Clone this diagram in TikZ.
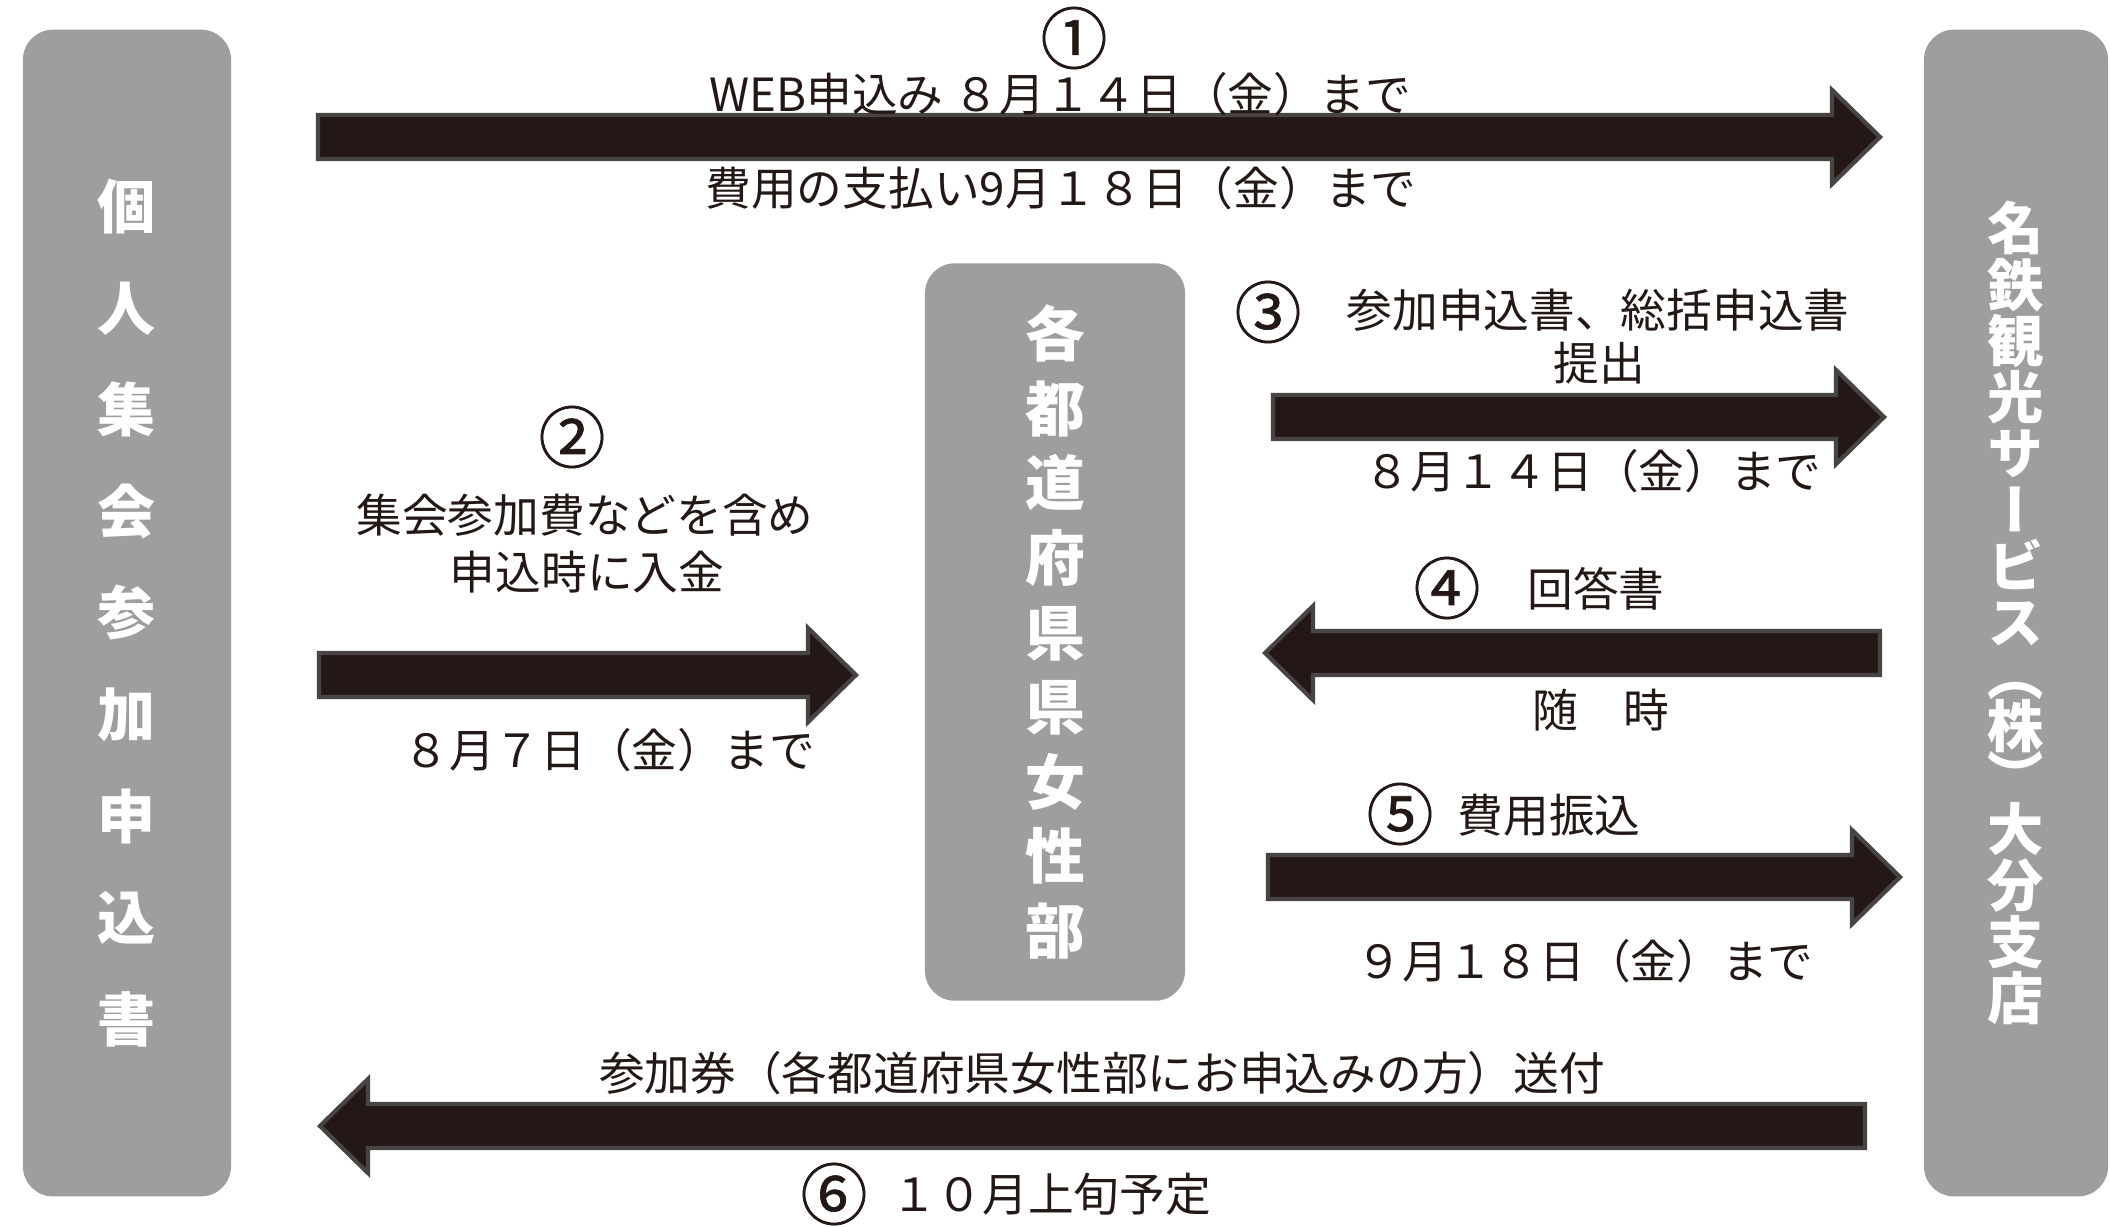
\documentclass[tikz,border=0pt]{standalone}
\usepackage{fontspec}
\usepackage{graphicx}
\usetikzlibrary{calc}
\newfontfamily\cjk{Noto Sans CJK JP}
\newfontfamily\cjkv[RawFeature=+vert]{Noto Sans CJK JP}
\newfontfamily\cjknum[FakeBold=1]{Noto Sans CJK JP}
\definecolor{boxgray}{RGB}{157,158,158}
\definecolor{ink}{RGB}{35,24,21}
\definecolor{rim}{RGB}{72,68,67}

% thick block arrow between two named points (horizontal)
\newcommand{\fatarrow}[2]{%
  \filldraw[fill=ink,draw=rim,line width=1.2pt,miter limit=10]
    let \p1=(#1), \p2=(#2), \n1={sign(\x2-\x1)} in
    (\x1,\y1+0.22cm) -- (\x2-\n1*0.48cm,\y1+0.22cm) -- (\x2-\n1*0.48cm,\y1+0.47cm)
    -- (\x2,\y1) -- (\x2-\n1*0.48cm,\y1-0.47cm) -- (\x2-\n1*0.48cm,\y1-0.22cm)
    -- (\x1,\y1-0.22cm) -- cycle;}

\tikzset{
  gbox/.style={fill=boxgray,rounded corners=0.3cm,text=white,align=center,inner sep=0pt},
  lab/.style={font=\cjk\fontsize{13}{15}\selectfont,text=ink,inner sep=0pt},
  num/.style={font=\cjknum\fontsize{19}{21}\selectfont,text=ink,inner sep=0pt}
}

\begin{document}
\begin{tikzpicture}[x=0.01cm,y=-0.01cm]
  \path[use as bounding box,fill=white] (0,0) rectangle (2110,1226);

  % the three parties
  \node[gbox,minimum width=2.08cm,minimum height=11.66cm,
        font=\cjk\bfseries\fontsize{16.5}{28.9}\selectfont] (indiv) at (127,613)
        {個\\人\\集\\会\\参\\加\\申\\込\\書};
  \node[gbox,minimum width=2.6cm,minimum height=7.37cm,
        font=\cjk\bfseries\fontsize{17}{21.2}\selectfont] (pref) at (1055,632)
        {各\\都\\道\\府\\県\\県\\女\\性\\部};
  \node[gbox,minimum width=1.84cm,minimum height=11.66cm,
        font=\cjkv\bfseries\fontsize{16}{16}\selectfont] (tour) at (2016,613)
        {名\\鉄\\観\\光\\サ\\ー\\ビ\\ス\\[-0.08em]（\\[-0.08em]株\\[-0.08em]）\\[-0.08em]大\\分\\支\\店};

  % arrow end points
  \coordinate (a1s) at (318,137);  \coordinate (a1e) at (1880,137);
  \coordinate (a2s) at (319,675);  \coordinate (a2e) at (856,675);
  \coordinate (a3s) at (1273,417); \coordinate (a3e) at (1884,417);
  \coordinate (a4s) at (1880,653); \coordinate (a4e) at (1265,653);
  \coordinate (a5s) at (1268,877); \coordinate (a5e) at (1900,877);
  \coordinate (a6s) at (1865,1126); \coordinate (a6e) at (320,1126);

  \fatarrow{a1s}{a1e}
  \fatarrow{a2s}{a2e}
  \fatarrow{a3s}{a3e}
  \fatarrow{a4s}{a4e}
  \fatarrow{a5s}{a5e}
  \fatarrow{a6s}{a6e}

  % step 1
  \node[num] (n1) at (1074,38) {①};
  \node[lab] (t1a) at (1060,94) {WEB申込み ８月１４日（金）まで};
  \node[lab] (t1b) at (1061,188) {費用の支払い9月１８日（金）まで};
  % step 2
  \node[num] (n2) at (572,437) {②};
  \node[lab] (t2a) at (585,515) {集会参加費などを含め};
  \node[lab] (t2b) at (587,572) {申込時に入金};
  \node[lab] (t2c) at (609,750) {８月７日（金）まで};
  % step 3
  \node[num] (n3) at (1268,312) {③};
  \node[lab] (t3a) at (1598,310) {参加申込書、総括申込書};
  \node[lab] (t3b) at (1599,363) {提出};
  \node[lab] (t3c) at (1593,471) {８月１４日（金）まで};
  % step 4
  \node[num] (n4) at (1447,588) {④};
  \node[lab] (t4a) at (1596,589) {回答書};
  \node[lab] (t4b) at (1601,710) {随　時};
  % step 5
  \node[num] (n5) at (1400,814) {⑤};
  \node[lab] (t5a) at (1549,815) {費用振込};
  \node[lab] (t5b) at (1585,961) {９月１８日（金）まで};
  % step 6
  \node[lab] (t6a) at (1102,1073) {参加券（各都道府県女性部にお申込みの方）送付};
  \node[num] (n6) at (834,1194) {⑥};
  \node[lab] (t6b) at (1051,1194) {１０月上旬予定};
\end{tikzpicture}
\end{document}
